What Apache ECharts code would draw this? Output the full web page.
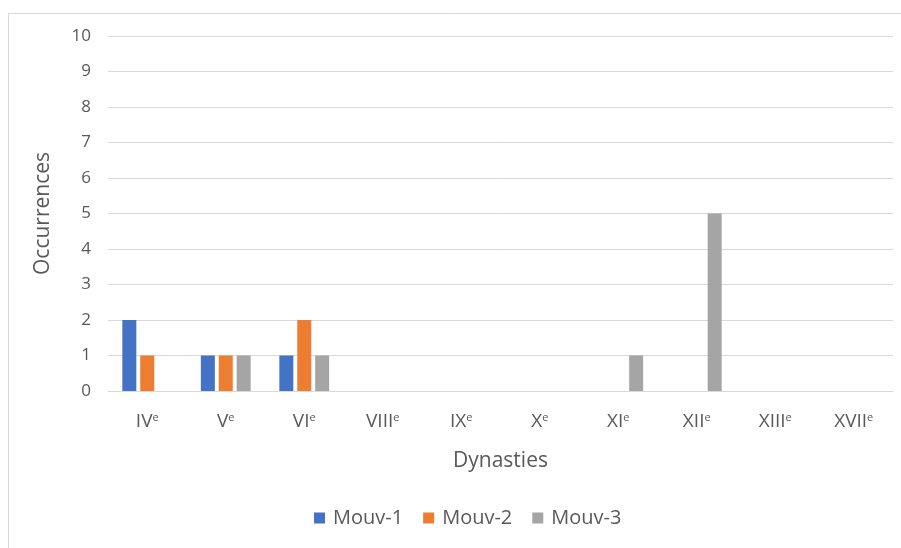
<!DOCTYPE html>
<html>
<head>
<meta charset="utf-8">
<script src="https://cdn.jsdelivr.net/npm/echarts@6/dist/echarts.min.js"></script>
<style>
  html, body { margin: 0; padding: 0; background: #fff; }
  #chart { width: 901px; height: 548px; }
</style>
</head>
<body>
<div id="chart"></div>
<script>
// Dynasties (roman numeral, superscript "e" added in labels)
const dynasties = ['IV', 'V', 'VI', 'VIII', 'IX', 'X', 'XI', 'XII', 'XIII', 'XVII'];
const mouv1 = [2, 1, 1, 0, 0, 0, 0, 0, 0, 0];
const mouv2 = [1, 1, 2, 0, 0, 0, 0, 0, 0, 0];
const mouv3 = [0, 1, 1, 0, 0, 0, 1, 5, 0, 0];
const seriesNames = ['Mouv-1', 'Mouv-2', 'Mouv-3'];
const yTicks = { min: 0, max: 10, interval: 1 };

const FONT = '"Open Sans"';
const TEXT = '#595959';
const GRID = '#D9D9D9';
const colors = ['#4472C4', '#ED7D31', '#A5A5A5'];
const values = [mouv1, mouv2, mouv3];

const chart = echarts.init(document.getElementById('chart'), null, { renderer: 'canvas' });

chart.setOption({
  animation: false,
  color: colors,
  textStyle: { fontFamily: FONT, color: TEXT },
  graphic: [{
    type: 'rect',
    shape: { x: 8.5, y: 13.5, width: 1000, height: 1000 },
    style: { fill: 'none', stroke: '#D9D9D9', lineWidth: 1 },
    silent: true,
    z: -1
  }],
  grid: { left: 108, right: 8, top: 36, bottom: 157, containLabel: false },
  legend: {
    bottom: 15,
    left: 309,
    itemWidth: 11,
    itemHeight: 11,
    itemGap: 20,
    icon: 'rect',
    textStyle: { fontFamily: FONT, fontSize: 20, color: TEXT, padding: [0, 0, 0, 3] },
    data: seriesNames
  },
  xAxis: {
    type: 'category',
    data: dynasties,
    name: 'Dynasties',
    nameLocation: 'middle',
    nameGap: 60,
    nameTextStyle: { fontFamily: FONT, fontSize: 21, color: TEXT },
    axisLine: { show: true, lineStyle: { color: GRID, width: 1 } },
    axisTick: { show: false },
    axisLabel: {
      interval: 0,
      margin: 21,
      formatter: v => '{b|' + v + '}{s|e}',
      rich: {
        b: { fontFamily: FONT, fontSize: 19, color: TEXT, height: 20 },
        s: { fontFamily: FONT, fontSize: 11, color: TEXT, verticalAlign: 'top', padding: [0, 0, 8, 0] }
      }
    }
  },
  yAxis: {
    type: 'value',
    min: yTicks.min,
    max: yTicks.max,
    interval: yTicks.interval,
    name: 'Occurrences',
    nameLocation: 'middle',
    nameGap: 54,
    nameRotate: 90,
    nameTextStyle: { fontFamily: FONT, fontSize: 21, color: TEXT },
    axisLine: { show: false },
    axisTick: { show: false },
    axisLabel: { fontFamily: FONT, fontSize: 17, color: TEXT, margin: 17 },
    splitLine: { lineStyle: { color: GRID, width: 1 } }
  },
  series: values.map((d, i) => ({
    name: seriesNames[i],
    type: 'bar',
    data: d,
    barWidth: 14,
    barGap: '28%',
    itemStyle: { color: colors[i] }
  }))
});
</script>
</body>
</html>
